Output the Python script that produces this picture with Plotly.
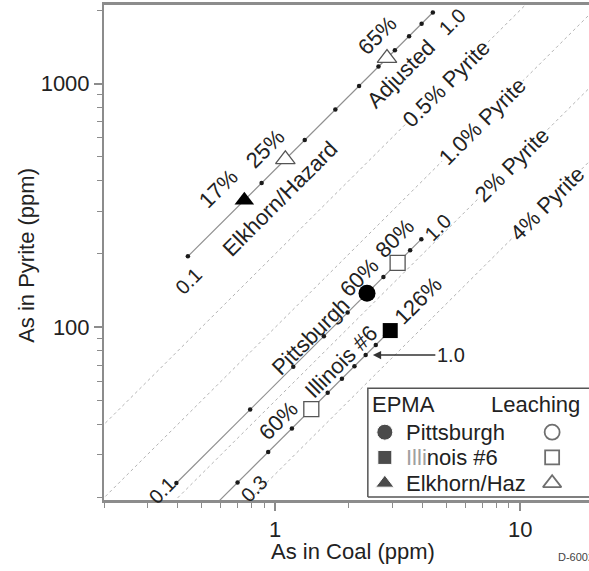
import numpy as np
import plotly.graph_objects as go

# ---------------------------------------------------------------- data
coal_names = ["Pittsburgh", "Illinois #6", "Elkhorn/Hazard"]
# As in coal / As in pyrite (ppm) at the 1.0 end of each adjustment line
full_as_coal = [3.95, 2.34, 4.4]
full_as_pyrite = [230.0, 77.0, 1955.0]
# adjustment factors marked with dots along each line
pitt_factors = [0.1, 0.2, 0.3, 0.4, 0.5, 0.6, 0.7, 0.8, 0.9, 1.0]
ill_factors = [0.2, 0.3, 0.4, 0.5, 0.6, 0.7, 0.8, 0.9, 1.0, 1.1, 1.2]
elk_factors = [0.1, 0.2, 0.3, 0.4, 0.5, 0.6, 0.7, 0.8, 0.9, 1.0]
# measured fractions of the adjusted value (percent)
epma_pct = [60, 126, 17]
leach_pct = [[80], [60], [25, 65]]

# constant-pyrite reference lines (wt.% pyrite in coal)
pyrite_pct = [0.5, 1.0, 2.0, 4.0]
pyrite_labels = ["0.5% Pyrite", "1.0% Pyrite", "2% Pyrite", "4% Pyrite"]
pyrite_label_coal = [5.0, 7.0, 9.3, 12.9]
ref_coal = [0.05, 100.0]

x_ticks = [1, 10]
x_minor = [0.2, 0.3, 0.4, 0.5, 0.6, 0.7, 0.8, 0.9, 2, 3, 4, 5, 6, 7, 8, 9]
y_ticks = [100, 1000]
y_minor = [20, 30, 40, 50, 60, 70, 80, 90, 200, 300, 400, 500, 600, 700, 800, 900, 2000]

FONT = "Arial"
TXT = "#222222"
LINE = "#8c8c8c"

fig = go.Figure()

# pyrite reference lines: As(pyrite) = As(coal) / pyrite fraction
for p in pyrite_pct:
    fig.add_trace(go.Scatter(
        x=ref_coal, y=[c * 100.0 / p for c in ref_coal], mode="lines",
        line=dict(color="#b4b4b4", width=1, dash="3px,3px"),
        hoverinfo="skip", showlegend=False))

# adjustment lines with factor dots
for factors, xc, yp in zip([pitt_factors, ill_factors, elk_factors],
                           full_as_coal, full_as_pyrite):
    fig.add_trace(go.Scatter(
        x=[f * xc for f in factors], y=[f * yp for f in factors],
        mode="lines+markers", line=dict(color="#909090", width=1.2),
        marker=dict(size=4.5, color="#1a1a1a"), showlegend=False))

# EPMA results (filled)
epma_symbols = ["circle", "square", "triangle-up"]
epma_sizes = [17, 15, 17]
for pct, xc, yp, sym, sz in zip(epma_pct, full_as_coal, full_as_pyrite,
                                epma_symbols, epma_sizes):
    fig.add_trace(go.Scatter(
        x=[pct / 100 * xc], y=[pct / 100 * yp], mode="markers",
        marker=dict(symbol=sym, size=sz, color="black"), showlegend=False))

# leaching results (open)
leach_symbols = ["square", "square", "triangle-up"]
leach_sizes = [15, 15, 17]
for pcts, xc, yp, sym, sz in zip(leach_pct, full_as_coal, full_as_pyrite,
                                 leach_symbols, leach_sizes):
    fig.add_trace(go.Scatter(
        x=[p / 100 * xc for p in pcts], y=[p / 100 * yp for p in pcts],
        mode="markers",
        marker=dict(symbol=sym, size=sz, color="white",
                    line=dict(color="#555555", width=1.3)),
        showlegend=False))

# ---------------------------------------------------------------- legend box
box_x = [0.544, 1.05, 1.05, 0.544, 0.544]
box_y = [0.006, 0.006, 0.226, 0.226, 0.006]
fig.add_trace(go.Scatter(
    x=box_x, y=box_y, xaxis="x2", yaxis="y2", mode="lines", fill="toself",
    fillcolor="white", line=dict(color="#555555", width=1.5),
    hoverinfo="skip", showlegend=False))
leg_rows = [0.137, 0.086, 0.034]
fig.add_trace(go.Scatter(
    x=[0.579] * 3, y=leg_rows, xaxis="x2", yaxis="y2", mode="markers",
    marker=dict(symbol=epma_symbols, size=[16, 14, 16], color="black"),
    showlegend=False))
fig.add_trace(go.Scatter(
    x=[0.924] * 3, y=leg_rows, xaxis="x2", yaxis="y2", mode="markers",
    marker=dict(symbol=["circle", "square", "triangle-up"], size=[15, 14, 16],
                color="white", line=dict(color="#333333", width=1.8)),
    showlegend=False))

ann = []


def at(text, coal, pyr, size=22, angle=-45, **kw):
    d = dict(text=text, x=np.log10(coal), y=np.log10(pyr), xref="x", yref="y",
             showarrow=False, textangle=angle,
             font=dict(family=FONT, size=size, color=TXT))
    d.update(kw)
    return d


def shifted(text, coal, pyr, dx, dy, size=22):
    return at(text, coal, pyr, size=size, xshift=dx, yshift=dy)


# pyrite line labels sit on their lines
for p, lab, c in zip(pyrite_pct, pyrite_labels, pyrite_label_coal):
    ann.append(at(lab, c, c * 100.0 / p, bgcolor="white", borderpad=0))

pc, pp = full_as_coal[0], full_as_pyrite[0]
ic, ip = full_as_coal[1], full_as_pyrite[1]
ec, ep = full_as_coal[2], full_as_pyrite[2]

# names along the adjustment lines
ann.append(at("Elkhorn/Hazard", 1.048, 338))
ann.append(at("Adjusted", 3.27, 1099))
ann.append(at("Pittsburgh", 1.39, 92))
ann.append(at("Illinois #6", 1.86, 72.6))

# factor end labels
ann.append(shifted("0.1", 0.1 * ec, 0.1 * ep, 1, -25, size=20))
ann.append(shifted("1.0", ec, ep, 19, -9, size=20))
ann.append(shifted("0.1", 0.1 * pc, 0.1 * pp, -14, -7, size=20))
ann.append(shifted("1.0", pc, pp, 17, 12, size=20))
ann.append(shifted("0.3", 0.3 * ic, 0.3 * ip, 16, -6, size=20))

# percent labels next to the measured points
ann.append(shifted("17%", 0.17 * ec, 0.17 * ep, -26, 12))
ann.append(shifted("25%", 0.25 * ec, 0.25 * ep, -20, 11))
ann.append(shifted("65%", 0.65 * ec, 0.65 * ep, -10, 23))
ann.append(shifted("60%", 0.60 * pc, 0.60 * pp, -8, 16))
ann.append(shifted("80%", 0.80 * pc, 0.80 * pp, -3, 24))
ann.append(shifted("126%", 1.26 * ic, 1.26 * ip, 28, 30))
ann.append(shifted("60%", 0.60 * ic, 0.60 * ip, -33, -11))

# arrow to the Illinois #6 1.0 point
ann.append(dict(text="1.0", x=np.log10(1.07 * ic), y=np.log10(ip), xref="x",
                yref="y", showarrow=True, ax=78, ay=0, arrowhead=2,
                arrowsize=1.1, arrowwidth=1.5, arrowcolor="#333333",
                font=dict(family=FONT, size=20, color=TXT)))

# legend text
leg_font = dict(family=FONT, size=22, color=TXT)
ann.append(dict(text="EPMA", x=0.548, y=0.192, xref="x2", yref="y2",
                xanchor="left", showarrow=False, font=leg_font))
ann.append(dict(text="Leaching", x=0.794, y=0.192, xref="x2", yref="y2",
                xanchor="left", showarrow=False, font=leg_font))
leg_names = ["Pittsburgh",
             "<span style='color:#a0a0a0'>Illi</span>nois #6",
             "Elkhorn/Haz"]
for name, yy in zip(leg_names, leg_rows):
    ann.append(dict(text=name, x=0.619, y=yy, xref="x2", yref="y2",
                    xanchor="left", showarrow=False, font=leg_font))

# axis titles and drawing number
ann.append(dict(text="As in Coal (ppm)", x=0.513, y=-0.105, xref="paper",
                yref="paper", xanchor="center", yanchor="middle",
                showarrow=False, font=leg_font))
ann.append(dict(text="As in Pyrite (ppm)", x=-0.159, y=0.495, xref="paper",
                yref="paper", xanchor="center", yanchor="middle",
                showarrow=False, textangle=-90, font=leg_font))
ann.append(dict(text="D-6002", x=0.932, y=-0.115, xref="paper", yref="paper",
                xanchor="left", yanchor="middle", showarrow=False,
                font=dict(family=FONT, size=11, color="#444444")))

axis_common = dict(
    type="log", showgrid=False, zeroline=False, showline=True,
    linecolor=LINE, ticks="outside", ticklen=8, tickwidth=1.5,
    tickcolor=LINE, tickfont=dict(family=FONT, size=22, color=TXT),
    tickmode="array")

fig.update_layout(
    width=589, height=571,
    margin=dict(l=104, r=0, t=5, b=71),
    paper_bgcolor="white", plot_bgcolor="white",
    showlegend=False,
    xaxis=dict(axis_common, range=[np.log10(0.2), 1.281], tickvals=x_ticks,
               ticktext=[str(v) for v in x_ticks], linewidth=2.5, mirror=True,
               minor=dict(tickmode="array", tickvals=x_minor, ticks="outside",
                          ticklen=5, tickwidth=1, tickcolor=LINE)),
    yaxis=dict(axis_common, range=[1.292, 3.322], tickvals=y_ticks,
               ticktext=[str(v) for v in y_ticks], linewidth=2,
               minor=dict(tickmode="array", tickvals=y_minor, ticks="outside",
                          ticklen=5, tickwidth=1, tickcolor=LINE)),
    xaxis2=dict(overlaying="x", anchor="y2", range=[0, 1], visible=False),
    yaxis2=dict(overlaying="y", anchor="x2", range=[0, 1], visible=False),
    annotations=ann,
)

fig.write_html("out.html")
